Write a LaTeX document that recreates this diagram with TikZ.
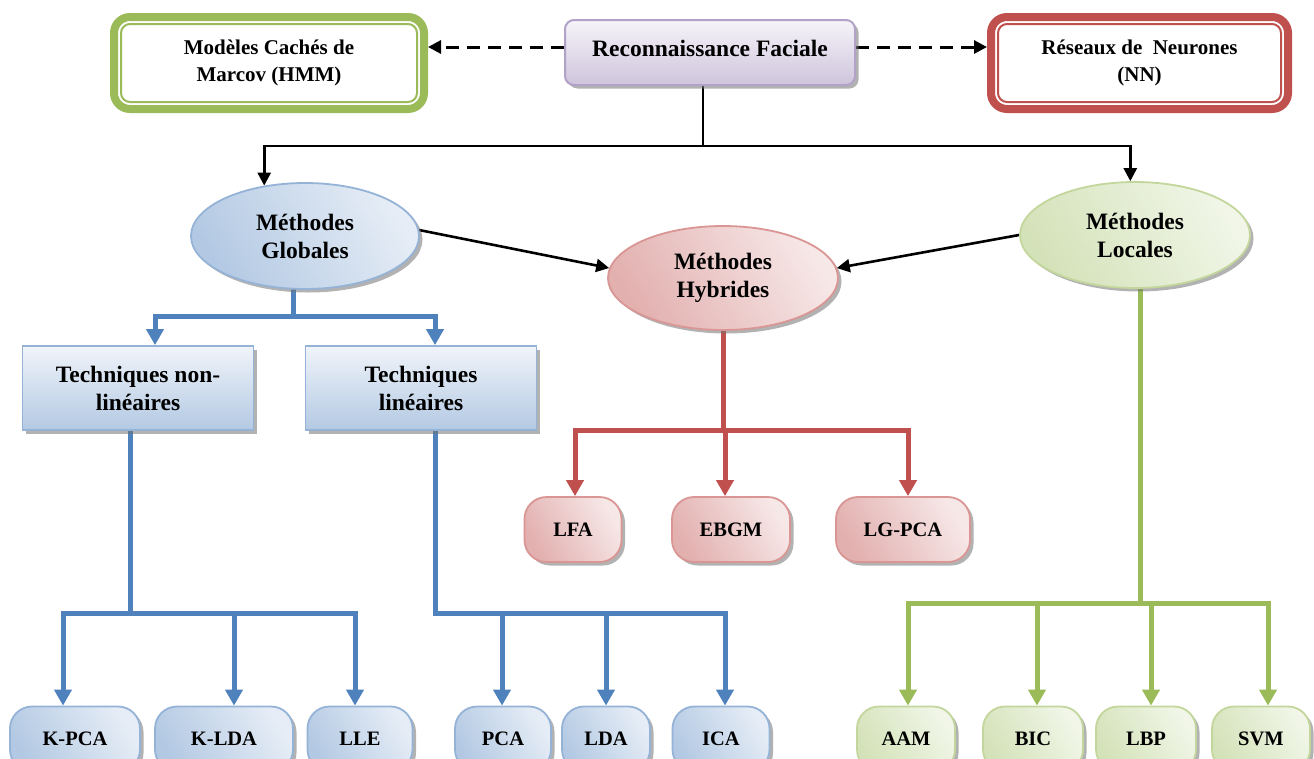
\documentclass[tikz,border=0pt]{standalone}
\usepackage{fontspec}
\setmainfont{Liberation Serif}
\usetikzlibrary{shapes.geometric,shadows,arrows.meta,calc,backgrounds}

\definecolor{bluestroke}{HTML}{4F81BD}
\definecolor{blueedge}{HTML}{95B3D7}
\definecolor{bluelight}{HTML}{E6EDF6}
\definecolor{bluedark}{HTML}{B3C9E3}
\definecolor{redstroke}{HTML}{C0504D}
\definecolor{rededge}{HTML}{D99694}
\definecolor{redlight}{HTML}{F7E8E8}
\definecolor{reddark}{HTML}{E2B0AF}
\definecolor{greenstroke}{HTML}{9BBB59}
\definecolor{greenedge}{HTML}{C3D69B}
\definecolor{greenlight}{HTML}{F1F6E8}
\definecolor{greendark}{HTML}{D4E2B9}
\definecolor{lavedge}{HTML}{B3A2C7}
\definecolor{lavlight}{HTML}{F6F4F9}
\definecolor{lavdark}{HTML}{CEC4DC}

\begin{document}
\begin{tikzpicture}[x=1pt,y=-1pt,
  shadowed/.style={drop shadow={shadow xshift=3.5pt,shadow yshift=-3.5pt,fill=black!55,opacity=.55}},
  bigtext/.style={font=\fontsize{23.5}{28}\selectfont\bfseries},
  midtext/.style={font=\fontsize{21}{27}\selectfont\bfseries},
  leaftext/.style={font=\fontsize{20.5}{24}\selectfont\bfseries},
  % colour families
  bluefam/.style={draw=blueedge,left color=bluedark,right color=bluelight,shading angle=120},
  redfam/.style={draw=rededge,left color=reddark,right color=redlight,shading angle=120},
  greenfam/.style={draw=greenedge,left color=greendark,right color=greenlight,shading angle=120},
  % shapes
  framed/.style={draw=#1,line width=8pt,rounded corners=16pt,fill=white,
    minimum height=92pt,align=center,midtext,inner sep=0pt},
  topbox/.style={draw=lavedge,line width=2pt,rounded corners=9pt,top color=lavlight,
    bottom color=lavdark,minimum width=290pt,minimum height=65pt,shadowed,bigtext,
    text height=17pt,text depth=10pt},
  family/.style={shape=ellipse,line width=1.8pt,minimum width=228pt,minimum height=106pt,
    inner sep=0pt,align=center,shadowed,bigtext},
  techbox/.style={draw=blueedge,line width=1.8pt,top color=bluelight!60!white,bottom color=bluedark,
    minimum width=231pt,minimum height=84pt,align=center,shadowed,bigtext},
  leaf/.style={line width=1.8pt,rounded corners=22pt,minimum height=65pt,inner sep=0pt,
    shadowed,leaftext},
  % connectors
  blackline/.style={line width=2.6pt,black},
  blackarrow/.style={blackline,-{Triangle[length=13pt,width=13pt]}},
  dasharrow/.style={blackarrow,line width=3pt,dash pattern=on 13pt off 8pt},
  treeline/.style={line width=5pt,draw=#1,line cap=rect},
  treearrow/.style={treeline=#1,-{Triangle[length=16pt,width=17pt]}},
]
\useasboundingbox (0,0) rectangle (1314,758);

% top row
\node[topbox] (rf) at (710,52.5) {Reconnaissance Faciale};
\node[framed=greenstroke,minimum width=310pt] (hmm) at (269,63) {Modèles Cachés de\\Marcov (HMM)};
\node[framed=redstroke,minimum width=297pt] (nn) at (1139.5,63) {Réseaux de~ Neurones\\(NN)};
\draw[greenstroke,line width=2pt,rounded corners=9pt]
  ([shift={(11pt,-11pt)}]hmm.north west) rectangle ([shift={(-11pt,11pt)}]hmm.south east);
\draw[redstroke,line width=2pt,rounded corners=9pt]
  ([shift={(11pt,-11pt)}]nn.north west) rectangle ([shift={(-11pt,11pt)}]nn.south east);

% method families
\node[family,bluefam] (glob) at (305,236) {Méthodes\\Globales};
\node[family,redfam,minimum width=230pt,minimum height=104pt] (hyb) at (723,278) {Méthodes\\Hybrides};
\node[family,greenfam,minimum width=230pt] (loc) at (1135,235) {Méthodes\\Locales};

% techniques
\node[techbox] (tnl) at (138,388) {Techniques non-\\linéaires};
\node[techbox] (tl) at (421,388) {Techniques\\linéaires};

% hybrid leaves
\node[leaf,redfam,minimum width=97pt] (lfa) at (573,529.5) {LFA};
\node[leaf,redfam,minimum width=118pt] (ebgm) at (731,529.5) {EBGM};
\node[leaf,redfam,minimum width=134pt] (lgpca) at (903,529.5) {LG-PCA};

% bottom leaves
\node[leaf,bluefam,minimum width=130pt] (kpca) at (75,739) {K-PCA};
\node[leaf,bluefam,minimum width=138pt] (klda) at (224,739) {K-LDA};
\node[leaf,bluefam,minimum width=105pt] (lle) at (360,739) {LLE};
\node[leaf,bluefam,minimum width=96pt] (pca) at (503,739) {PCA};
\node[leaf,bluefam,minimum width=88pt] (lda) at (606,739) {LDA};
\node[leaf,bluefam,minimum width=97pt] (ica) at (721,739) {ICA};
\node[leaf,greenfam,minimum width=98pt] (aam) at (906,739) {AAM};
\node[leaf,greenfam,minimum width=100pt] (bic) at (1033,739) {BIC};
\node[leaf,greenfam,minimum width=100pt] (lbp) at (1146,739) {LBP};
\node[leaf,greenfam,minimum width=98pt] (svm) at (1261,739) {SVM};

\begin{scope}[on background layer]
  \fill[white] (0,0) rectangle (1314,758);

  % dashed links to the neighbouring approaches
  \coordinate (dl) at ([yshift=5.5pt]rf.west);
  \coordinate (dr) at ([yshift=5.5pt]rf.east);
  \draw[dasharrow] (dl) -- (dl -| hmm.east);
  \draw[dasharrow] (dr) -- (dr -| nn.west);

  % main split
  \coordinate (rfout) at ([xshift=-7pt]rf.south);
  \coordinate (hub) at ($(rfout)+(0,60)$);
  \draw[blackline] (rfout) -- (hub);
  \draw[blackarrow] (hub) -| (glob.129);
  \draw[blackarrow] (hub) -| (loc.95);
  \draw[blackarrow] (glob.3) -- (hyb.175);
  \draw[blackarrow] (loc.180) -- (hyb.5);

  % global methods
  \coordinate (gout) at ([xshift=-12pt]glob.south);
  \coordinate (ghub) at ($(gout)+(0,27)$);
  \draw[treeline=bluestroke] (gout) -- (ghub);
  \draw[treearrow=bluestroke] (ghub) -| ([xshift=17pt]tnl.north);
  \draw[treearrow=bluestroke] (ghub) -| ([xshift=14pt]tl.north);

  \coordinate (nlout) at ([xshift=-8pt]tnl.south);
  \coordinate (nlhub) at ($(nlout)+(0,183)$);
  \draw[treeline=bluestroke] (nlout) -- (nlhub);
  \draw[treearrow=bluestroke] (nlhub) -| ([xshift=-12pt]kpca.north);
  \draw[treearrow=bluestroke] (nlhub) -| ([xshift=10pt]klda.north);
  \draw[treearrow=bluestroke] (nlhub) -| ([xshift=-5pt]lle.north);

  \coordinate (lout) at ([xshift=14pt]tl.south);
  \coordinate (lhub) at ($(lout)+(0,183)$);
  \draw[treeline=bluestroke] (lout) -- (lhub);
  \draw[treearrow=bluestroke] (lhub) -| ([xshift=-1pt]pca.north);
  \draw[treearrow=bluestroke] (lhub) -| (lda.north);
  \draw[treearrow=bluestroke] (lhub) -| ([xshift=4pt]ica.north);

  % hybrid methods
  \coordinate (hhub) at ($(hyb.south)+(0,100)$);
  \draw[treeline=redstroke] (hyb.south) -- (hhub);
  \draw[treearrow=redstroke] (hhub) -| ([xshift=2pt]lfa.north);
  \draw[treearrow=redstroke] (hhub) -| ([xshift=-6pt]ebgm.north);
  \draw[treearrow=redstroke] (hhub) -| ([xshift=5pt]lgpca.north);

  % local methods
  \coordinate (lcout) at ([xshift=5pt]loc.south);
  \coordinate (lchub) at ($(lcout)+(0,315)$);
  \draw[treeline=greenstroke] (lcout) -- (lchub);
  \draw[treearrow=greenstroke] (lchub) -| ([xshift=2pt]aam.north);
  \draw[treearrow=greenstroke] (lchub) -| ([xshift=4pt]bic.north);
  \draw[treearrow=greenstroke] (lchub) -| ([xshift=5pt]lbp.north);
  \draw[treearrow=greenstroke] (lchub) -| ([xshift=7pt]svm.north);
\end{scope}
\end{tikzpicture}
\end{document}
